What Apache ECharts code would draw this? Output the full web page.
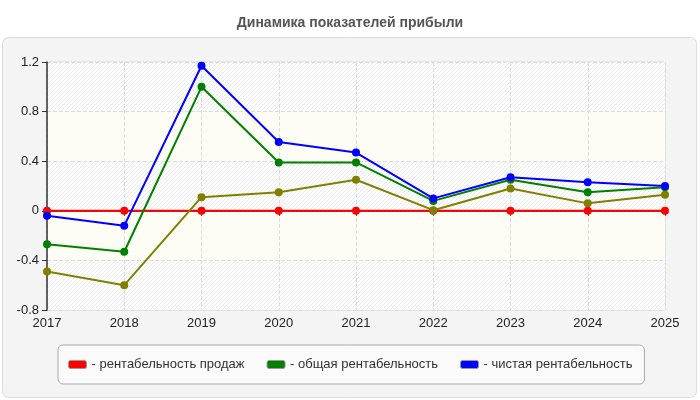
<!DOCTYPE html>
<html>
<head>
<meta charset="utf-8">
<script src="https://cdn.jsdelivr.net/npm/echarts@6/dist/echarts.min.js"></script>
<style>
  html, body { margin: 0; padding: 0; background: #fff; }
  #chart { width: 700px; height: 400px; }
</style>
</head>
<body>
<div id="chart"></div>
<script>
// годы
const years = ['2017', '2018', '2019', '2020', '2021', '2022', '2023', '2024', '2025']
// рентабельность продаж
const salesProfit = [0, 0, 0, 0, 0, 0, 0, 0, 0]
// общая рентабельность
const totalProfit = [-0.27, -0.33, 1.0, 0.39, 0.39, 0.08, 0.25, 0.15, 0.19]
// чистая рентабельность
const netProfit = [-0.04, -0.12, 1.17, 0.555, 0.47, 0.1, 0.27, 0.23, 0.2]
// четвёртая линия (без легенды)
const otherProfit = [-0.49, -0.6, 0.11, 0.15, 0.25, 0.005, 0.18, 0.06, 0.13]

const yTicks = { min: -0.8, max: 1.2, interval: 0.4 }

// штриховка фона
function makeHatch() {
  const c = document.createElement('canvas')
  c.width = 4
  c.height = 4
  const ctx = c.getContext('2d')
  ctx.fillStyle = '#ffffff'
  ctx.fillRect(0, 0, 4, 4)
  ctx.strokeStyle = '#ebebeb'
  ctx.lineWidth = 1
  ctx.beginPath()
  ctx.moveTo(0, 4)
  ctx.lineTo(4, 0)
  ctx.moveTo(-1, 1)
  ctx.lineTo(1, -1)
  ctx.moveTo(3, 5)
  ctx.lineTo(5, 3)
  ctx.stroke()
  return { image: c, repeat: 'repeat' }
}

const font = 'Liberation Sans'
const chart = echarts.init(document.getElementById('chart'))

function line(name, data, color, z) {
  return {
    name: name,
    type: 'line',
    data: data,
    z: z,
    symbol: 'circle',
    symbolSize: 8,
    lineStyle: { color: color, width: 2 },
    itemStyle: { color: color },
    animation: false
  }
}

chart.setOption({
  backgroundColor: '#fff',
  title: {
    text: 'Динамика показателей прибыли',
    left: 'center',
    top: 11,
    textStyle: { fontFamily: font, fontSize: 14, fontWeight: 'bold', color: '#555' }
  },
  graphic: [{
    type: 'rect',
    left: 2,
    top: 37,
    z: -10,
    shape: { width: 694, height: 360, r: 6 },
    style: { fill: '#f4f4f4', stroke: '#dcdcdc', lineWidth: 1 }
  }],
  legend: {
    data: ['- рентабельность продаж', '- общая рентабельность', '- чистая рентабельность'],
    left: 58,
    top: 345,
    width: 582,
    padding: [13, 12, 13, 10],
    itemGap: 22,
    itemWidth: 18,
    itemHeight: 8,
    icon: 'roundRect',
    backgroundColor: '#fafafa',
    borderColor: '#aaa',
    borderWidth: 1,
    borderRadius: 5,
    itemStyle: { borderColor: '#999', borderWidth: 1 },
    textStyle: { fontFamily: font, fontSize: 13, color: '#333' }
  },
  grid: {
    left: 47,
    right: 35,
    top: 62,
    bottom: 90,
    show: true,
    backgroundColor: '#fff',
    borderColor: '#ddd',
    borderWidth: 1
  },
  xAxis: {
    type: 'category',
    data: years,
    boundaryGap: false,
    axisLine: { lineStyle: { color: '#333', width: 1.5 } },
    axisTick: { show: true, length: 5, lineStyle: { color: '#333' } },
    axisLabel: { fontFamily: font, fontSize: 13, color: '#222', margin: 7 },
    splitLine: { show: true, lineStyle: { color: '#ddd', type: 'dashed' } }
  },
  yAxis: {
    type: 'value',
    min: yTicks.min,
    max: yTicks.max,
    interval: yTicks.interval,
    axisLine: { show: true, lineStyle: { color: '#333', width: 1.5 } },
    axisTick: { show: true, length: 5, lineStyle: { color: '#333' } },
    axisLabel: {
      fontFamily: font, fontSize: 13, color: '#222', margin: 8,
      formatter: v => String(Math.round(v * 10) / 10)
    },
    splitLine: { show: true, lineStyle: { color: '#ddd', type: 'dashed' } },
    splitArea: { show: true, areaStyle: { color: [makeHatch(), '#fdfdf6'] } }
  },
  series: [
    line('- рентабельность продаж', salesProfit, '#ff0000', 2),
    line('прочее', otherProfit, '#808000', 3),
    line('- общая рентабельность', totalProfit, '#008000', 4),
    line('- чистая рентабельность', netProfit, '#0000ff', 5)
  ]
})
</script>
</body>
</html>
